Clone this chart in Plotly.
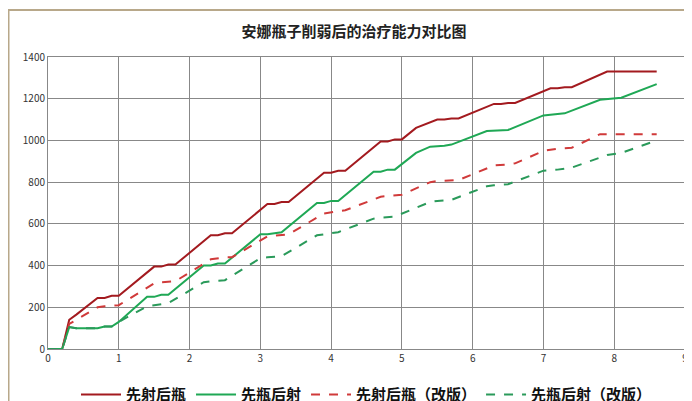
import plotly.graph_objects as go

# 先射后瓶
x_a = [0, 0.2, 0.3, 0.4, 0.7, 0.8, 0.9, 1.0, 1.5, 1.6, 1.7, 1.8, 2.3, 2.4, 2.5, 2.6, 3.1, 3.2, 3.3, 3.4,
       3.9, 4.0, 4.1, 4.2, 4.7, 4.8, 4.9, 5.0, 5.2, 5.5, 5.6, 5.7, 5.8, 6.3, 6.4, 6.5, 6.6, 7.1, 7.2, 7.3, 7.4, 7.9, 8.6]
y_a = [0, 0, 140, 165, 245, 245, 255, 255, 395, 395, 405, 405, 545, 545, 555, 555, 695, 695, 705, 705,
       845, 845, 855, 855, 995, 995, 1005, 1005, 1060, 1100, 1100, 1105, 1105, 1175, 1175, 1180, 1180, 1250, 1250, 1255, 1255, 1330, 1330]
# 先瓶后射
x_b = [0, 0.2, 0.3, 0.4, 0.7, 0.8, 0.9, 1.0, 1.4, 1.5, 1.6, 1.7, 2.2, 2.3, 2.4, 2.5, 3.0, 3.1, 3.2, 3.3,
       3.8, 3.9, 4.0, 4.1, 4.6, 4.7, 4.8, 4.9, 5.2, 5.4, 5.6, 5.7, 6.2, 6.4, 6.5, 7.0, 7.2, 7.3, 7.8, 8.0, 8.1, 8.6]
y_b = [0, 0, 105, 100, 100, 108, 108, 130, 250, 250, 260, 260, 400, 400, 410, 410, 550, 550, 555, 560,
       700, 700, 710, 710, 850, 850, 860, 860, 940, 970, 975, 980, 1045, 1050, 1050, 1120, 1125, 1130, 1195, 1200, 1205, 1270]
# 先射后瓶（改版）
x_c = [0, 0.2, 0.3, 0.7, 0.8, 1.0, 1.5, 1.6, 1.8, 2.3, 2.5, 2.6, 3.1, 3.3, 3.4, 3.9, 4.1, 4.2,
       4.7, 4.9, 5.0, 5.4, 5.5, 5.8, 6.3, 6.5, 6.6, 7.0, 7.2, 7.4, 7.8, 8.6]
y_c = [0, 0, 120, 200, 205, 210, 315, 320, 325, 430, 440, 440, 540, 545, 550, 650, 660, 665,
       730, 735, 740, 800, 805, 810, 880, 885, 890, 950, 960, 965, 1030, 1030]
# 先瓶后射（改版）
x_d = [0, 0.2, 0.3, 0.4, 0.7, 0.8, 0.9, 1.0, 1.4, 1.5, 1.7, 2.2, 2.3, 2.5, 3.0, 3.1, 3.3, 3.8, 3.9, 4.1,
       4.6, 4.7, 4.9, 5.4, 5.5, 5.7, 6.2, 6.3, 6.5, 7.0, 7.2, 7.4, 7.9, 8.1, 8.6]
y_d = [0, 0, 105, 100, 100, 108, 108, 130, 205, 210, 220, 320, 325, 330, 435, 440, 445, 545, 550, 560,
       625, 630, 635, 705, 710, 715, 780, 785, 790, 855, 860, 870, 930, 940, 1000]

names = ["先射后瓶", "先瓶后射", "先射后瓶（改版）", "先瓶后射（改版）"]
red = "#a31a1f"
green = "#1fa855"
red_dash = "#d03a3a"
green_dash = "#2a9a5a"

fig = go.Figure()
fig.add_trace(go.Scatter(x=x_a, y=y_a, mode="lines", name=names[0], line=dict(color=red, width=2)))
fig.add_trace(go.Scatter(x=x_b, y=y_b, mode="lines", name=names[1], line=dict(color=green, width=2)))
fig.add_trace(go.Scatter(x=x_c, y=y_c, mode="lines", name=names[2], line=dict(color=red_dash, width=2, dash="dash")))
fig.add_trace(go.Scatter(x=x_d, y=y_d, mode="lines", name=names[3], line=dict(color=green_dash, width=2, dash="dash")))
for tr in fig.data:
    tr.name = "<b>" + tr.name + "</b>"

font = "Noto Sans CJK SC"
fig.update_layout(
    width=692, height=401,
    margin=dict(l=40, r=15, t=49, b=60, autoexpand=False),
    paper_bgcolor="white", plot_bgcolor="white",
    title=dict(text="<b>安娜瓶子削弱后的治疗能力对比图</b>", x=0.5, y=0.955, xanchor="center",
               font=dict(family=font, size=15, color="#222")),
    font=dict(family=font, size=10, color="#333"),
    showlegend=True,
    legend=dict(orientation="h", x=0.5, xanchor="center", y=-0.1, yanchor="top",
                font=dict(family=font, size=15, color="#111"), itemwidth=40),
    xaxis=dict(range=[0, 9], dtick=1, showgrid=True, gridcolor="#888", gridwidth=1, automargin=False,
               linecolor="#888", mirror=True, zeroline=False, tickfont=dict(size=10)),
    yaxis=dict(range=[0, 1400], dtick=200, showgrid=True, gridcolor="#888", gridwidth=1, automargin=False,
               linecolor="#888", mirror=True, zeroline=False, tickfont=dict(size=10)),
    shapes=[dict(type="rect", xref="paper", yref="paper", x0=-0.062, x1=1.028, y0=-0.199, y1=1.161,
                 line=dict(color="#b8a88a", width=2))],
)

fig.write_html("out.html")
